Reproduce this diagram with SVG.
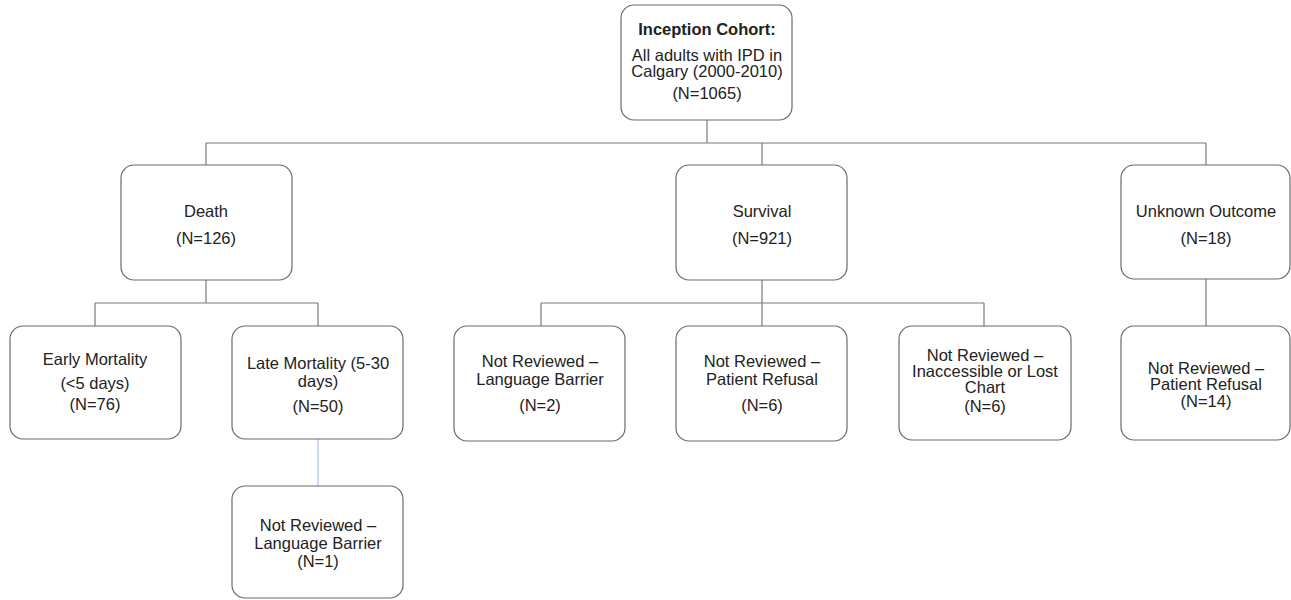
<svg xmlns="http://www.w3.org/2000/svg" width="1291" height="600" viewBox="0 0 1291 600">
<style>
.box{fill:#fff;stroke:#6b6b6b;stroke-width:1.2}
.ln{fill:none;stroke:#7a7a7a;stroke-width:1.2}
.blue{fill:none;stroke:#a4c2f4;stroke-width:1.2}
text{font-family:"Liberation Sans",Arial,sans-serif;font-size:16.5px;fill:#222;text-anchor:middle}
.b{font-weight:bold}
</style>
<rect width="1291" height="600" fill="#fff"/>
<g id="connectors">
<path class="ln" d="M707 120V143M206 143H1206M206 143V165M762 143V165M1206 143V165"/>
<path class="ln" d="M206 280V303M95 303H318M95 303V326M318 303V326"/>
<path class="ln" d="M762 280V303M541 303H984M541 303V326M762 303V326M984 303V326"/>
<path class="ln" d="M1206 279V326"/>
<path class="blue" d="M318 439V486"/>
</g>
<g id="inception">
<rect class="box" x="621" y="5" width="171" height="115" rx="13"/>
<text class="b" x="707" y="35">Inception Cohort:</text>
<text x="707" y="61">All adults with IPD in</text>
<text x="707" y="77">Calgary (2000-2010)</text>
<text x="707" y="99">(N=1065)</text>
</g>
<g id="death">
<rect class="box" x="121" y="165" width="171" height="115" rx="13"/>
<text x="206" y="217">Death</text>
<text x="206" y="244">(N=126)</text>
</g>
<g id="survival">
<rect class="box" x="676" y="165" width="171" height="115" rx="13"/>
<text x="762" y="217">Survival</text>
<text x="762" y="244">(N=921)</text>
</g>
<g id="unknown">
<rect class="box" x="1121" y="165" width="169" height="114" rx="13"/>
<text x="1206" y="217">Unknown Outcome</text>
<text x="1206" y="244">(N=18)</text>
</g>
<g id="early">
<rect class="box" x="10" y="326" width="171" height="113" rx="13"/>
<text x="95" y="365">Early Mortality</text>
<text x="95" y="389">(&lt;5 days)</text>
<text x="95" y="410">(N=76)</text>
</g>
<g id="late">
<rect class="box" x="232" y="326" width="171" height="113" rx="13"/>
<text x="318" y="369">Late Mortality (5-30</text>
<text x="318" y="387">days)</text>
<text x="318" y="412">(N=50)</text>
</g>
<g id="late-lang">
<rect class="box" x="232" y="486" width="171" height="112" rx="13"/>
<text x="318" y="531">Not Reviewed –</text>
<text x="318" y="549">Language Barrier</text>
<text x="318" y="567">(N=1)</text>
</g>
<g id="surv-lang">
<rect class="box" x="454" y="326" width="171" height="115" rx="13"/>
<text x="540" y="367">Not Reviewed –</text>
<text x="540" y="385">Language Barrier</text>
<text x="540" y="411">(N=2)</text>
</g>
<g id="surv-refusal">
<rect class="box" x="676" y="326" width="171" height="115" rx="13"/>
<text x="762" y="367">Not Reviewed –</text>
<text x="762" y="385">Patient Refusal</text>
<text x="762" y="411">(N=6)</text>
</g>
<g id="surv-lost">
<rect class="box" x="899" y="326" width="172" height="114" rx="13"/>
<text x="985" y="361">Not Reviewed –</text>
<text x="985" y="377">Inaccessible or Lost</text>
<text x="985" y="393">Chart</text>
<text x="985" y="412">(N=6)</text>
</g>
<g id="unk-refusal">
<rect class="box" x="1121" y="326" width="169" height="114" rx="13"/>
<text x="1206" y="374">Not Reviewed –</text>
<text x="1206" y="390">Patient Refusal</text>
<text x="1206" y="407">(N=14)</text>
</g>
</svg>
